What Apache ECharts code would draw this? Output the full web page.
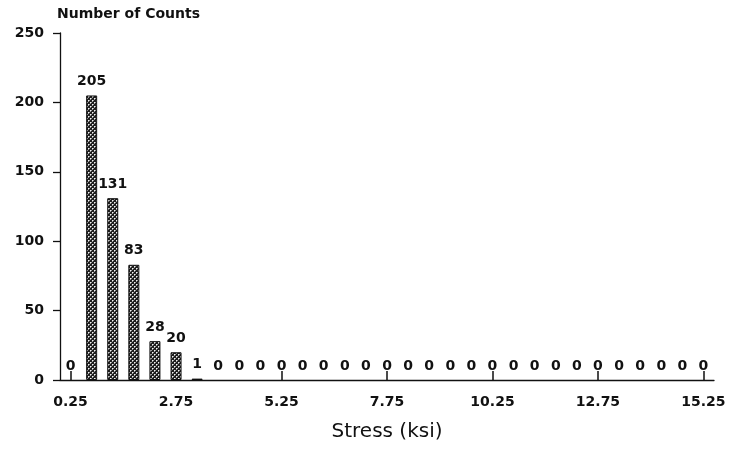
<!DOCTYPE html>
<html>
<head>
<meta charset="utf-8">
<script src="https://cdn.jsdelivr.net/npm/echarts@6/dist/echarts.min.js"></script>
<style>
  html, body { margin: 0; padding: 0; background: #fff; }
  #chart { width: 730px; height: 450px; }
</style>
</head>
<body>
<div id="chart"></div>
<script>
// Stress bins (ksi) and the number of counts in each bin
const stressBins = ['0.25','0.75','1.25','1.75','2.25','2.75','3.25','3.75','4.25','4.75',
  '5.25','5.75','6.25','6.75','7.25','7.75','8.25','8.75','9.25','9.75',
  '10.25','10.75','11.25','11.75','12.25','12.75','13.25','13.75','14.25','14.75','15.25'];
const counts = [0, 205, 131, 83, 28, 20, 1, 0, 0, 0,
  0, 0, 0, 0, 0, 0, 0, 0, 0, 0,
  0, 0, 0, 0, 0, 0, 0, 0, 0, 0, 0];
const yTicks = [0, 50, 100, 150, 200, 250];

// Dotted dark fill for the bars
function makeDotPattern() {
  const c = document.createElement('canvas');
  c.width = 4; c.height = 4;
  const g = c.getContext('2d');
  g.fillStyle = '#1e1e1e';
  g.fillRect(0, 0, 4, 4);
  g.fillStyle = '#f2f2f2';
  g.fillRect(0, 0, 1, 1);
  g.fillRect(2, 2, 1, 1);
  g.fillStyle = '#9a9a9a';
  g.fillRect(1, 0, 1, 1);
  g.fillRect(0, 1, 1, 1);
  g.fillRect(3, 2, 1, 1);
  g.fillRect(2, 3, 1, 1);
  return c;
}

const font = 'DejaVu Sans, Verdana, sans-serif';
const ink = '#111';
const dots = makeDotPattern();

// Empty bins get no outline so only their value label shows
const barData = counts.map(v => ({
  value: v,
  itemStyle: v === 0 ? { borderWidth: 0, color: 'transparent' } : undefined
}));

const chart = echarts.init(document.getElementById('chart'), null, { renderer: 'canvas' });

chart.setOption({
  animation: false,
  backgroundColor: '#ffffff',
  grid: { left: 60, right: 16, top: 33, bottom: 70, containLabel: false },
  xAxis: [{
    type: 'category',
    data: stressBins,
    name: 'Stress (ksi)',
    nameLocation: 'middle',
    nameGap: 42,
    nameTextStyle: { fontFamily: font, fontSize: 20, color: ink },
    axisLine: { lineStyle: { color: ink, width: 1.3 } },
    axisTick: { alignWithLabel: true, interval: 0, length: 6, lineStyle: { color: ink, width: 1.3 } },
    axisLabel: { interval: 4, margin: 15, fontFamily: font, fontWeight: 'bold', fontSize: 14, color: ink }
  }, {
    // labelled ticks also reach up through the axis line
    type: 'category',
    data: stressBins,
    position: 'bottom',
    gridIndex: 0,
    axisLine: { show: false },
    axisTick: { show: true, alignWithLabel: true, interval: 4, inside: true, length: 9, lineStyle: { color: ink, width: 1.5 } },
    axisLabel: { show: false, interval: 4 },
    splitLine: { show: false }
  }],
  yAxis: {
    type: 'value',
    min: yTicks[0],
    max: yTicks[yTicks.length - 1],
    interval: 50,
    name: 'Number of Counts',
    nameLocation: 'end',
    nameGap: 12,
    nameTextStyle: { fontFamily: font, fontWeight: 'bold', fontSize: 14, color: ink, align: 'left', padding: [0, 0, 0, -3] },
    axisLine: { show: true, lineStyle: { color: ink, width: 1.3 } },
    axisTick: { show: true, length: 7, lineStyle: { color: ink, width: 1.3 } },
    axisLabel: { margin: 16, fontFamily: font, fontWeight: 'bold', fontSize: 14, color: ink },
    splitLine: { show: false }
  },
  series: [{
    type: 'bar',
    xAxisIndex: 0,
    data: barData,
    barWidth: 11,
    itemStyle: {
      color: { image: dots, repeat: 'repeat' },
      borderColor: ink,
      borderWidth: 1
    },
    label: {
      show: true,
      position: 'top',
      distance: 7,
      fontFamily: font,
      fontWeight: 'bold',
      fontSize: 14,
      color: ink
    }
  }]
});
</script>
</body>
</html>
